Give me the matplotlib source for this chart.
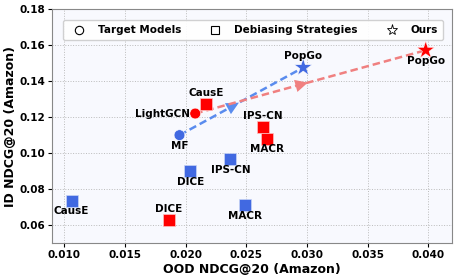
import matplotlib.pyplot as plt
from matplotlib.lines import Line2D

# target models
target_names = ["MF", "LightGCN"]
target_x = [0.0195, 0.0208]
target_y = [0.110, 0.122]

# debiasing strategies on MF (blue) and LightGCN (red)
mf_names = ["CausE", "DICE", "IPS-CN", "MACR"]
mf_x = [0.0106, 0.0204, 0.0237, 0.0249]
mf_y = [0.0736, 0.0901, 0.0967, 0.0710]

lg_names = ["CausE", "DICE", "IPS-CN", "MACR"]
lg_x = [0.0217, 0.0186, 0.0264, 0.0267]
lg_y = [0.1274, 0.0630, 0.1145, 0.1081]

# ours
ours_x = [0.0297, 0.0398]
ours_y = [0.1475, 0.1571]

xticks = [0.010, 0.015, 0.020, 0.025, 0.030, 0.035, 0.040]
yticks = [0.06, 0.08, 0.10, 0.12, 0.14, 0.16, 0.18]

blue = "#4169E1"
red = "#FF0000"
blue_line = "#5A8CEE"
red_line = "#F08080"

fig, ax = plt.subplots(figsize=(4.57, 2.8), dpi=100)
fig.subplots_adjust(left=0.114, right=0.99, top=0.968, bottom=0.131)
ax.set_facecolor("#F8F9FE")
ax.grid(True, linestyle=":", color="#BBBBBB", linewidth=0.7)
ax.set_axisbelow(True)


def arrow_line(x0, y0, x1, y1, c):
    ax.plot([x0, x1], [y0, y1], linestyle="--", color=c, lw=1.8, zorder=2, dashes=(3, 1.6))
    mx, my = (x0 + x1) / 2, (y0 + y1) / 2
    ax.annotate("", xy=(mx, my), xytext=(mx - (x1 - x0) * 0.08, my - (y1 - y0) * 0.08),
                arrowprops=dict(arrowstyle="-|>,head_length=0.9,head_width=0.45",
                                color=c, lw=0), zorder=2)


arrow_line(target_x[0], target_y[0], ours_x[0], ours_y[0], blue_line)
arrow_line(target_x[1], target_y[1], ours_x[1], ours_y[1], red_line)

ax.scatter(target_x, target_y, marker="o", s=60, c=[blue, red], edgecolors="white", linewidths=0.4, zorder=3)
ax.scatter(mf_x, mf_y, marker="s", s=65, c=blue, edgecolors="#C8D4F5", linewidths=0.5, zorder=3)
ax.scatter(lg_x, lg_y, marker="s", s=65, c=red, edgecolors="#FFC0C0", linewidths=0.5, zorder=3)
ax.scatter(ours_x, ours_y, marker="*", s=170, c=[blue, red], edgecolors="white", linewidths=0.3, zorder=3)

fs = 7.5
kw = dict(textcoords="offset points", fontsize=fs, fontweight="bold", ha="center")


def lab(text, x, y, dx, dy, va, ha="center"):
    d = dict(kw)
    d["ha"] = ha
    ax.annotate(text, (x, y), xytext=(dx, dy), va=va, **d)


lab("MF", target_x[0], target_y[0], 0, -4, "top")
lab("LightGCN", target_x[1], target_y[1], -4, 0, "center", "right")
lab("CausE", mf_x[0], mf_y[0], 0, -4, "top")
lab("DICE", mf_x[1], mf_y[1], 0, -4, "top")
lab("IPS-CN", mf_x[2], mf_y[2], 0, -4, "top")
lab("MACR", mf_x[3], mf_y[3], 0, -4, "top")
lab("CausE", lg_x[0], lg_y[0], 0, 4, "bottom")
lab("DICE", lg_x[1], lg_y[1], 0, 4, "bottom")
lab("IPS-CN", lg_x[2], lg_y[2], 0, 4, "bottom")
lab("MACR", lg_x[3], lg_y[3], 0, -4, "top")
lab("PopGo", ours_x[0], ours_y[0], 0, 5, "bottom")
lab("PopGo", ours_x[1], ours_y[1], 0, -4, "top")

ax.set_xlim(0.009, 0.042)
ax.set_ylim(0.05, 0.18)
ax.set_xticks(xticks)
ax.set_yticks(yticks)
ax.set_xticklabels([f"{v:.3f}" for v in xticks], fontsize=fs, fontweight="bold")
ax.set_yticklabels([f"{v:.2f}" for v in yticks], fontsize=fs, fontweight="bold")
ax.set_xlabel("OOD NDCG@20 (Amazon)", fontsize=9, fontweight="bold", labelpad=2)
ax.set_ylabel("ID NDCG@20 (Amazon)", fontsize=9, fontweight="bold", labelpad=2)
ax.tick_params(length=3, pad=2)
for s in ax.spines.values():
    s.set_color("#888888")

handles = [
    Line2D([], [], marker="o", ls="", mfc="white", mec="black", ms=6, mew=0.8),
    Line2D([], [], marker="s", ls="", mfc="white", mec="black", ms=6, mew=0.8),
    Line2D([], [], marker="*", ls="", mfc="white", mec="black", ms=8, mew=0.6),
]
ax.legend(handles, ["Target Models", "Debiasing Strategies", "Ours"], ncol=3,
          loc="upper left", bbox_to_anchor=(0.015, 0.975, 0.975, 0.0), mode="expand",
          prop=dict(size=fs, weight="bold"), handletextpad=0.8, borderpad=0.5,
          frameon=True, fancybox=True, framealpha=0.9)

fig.savefig("out.png", dpi=100)
